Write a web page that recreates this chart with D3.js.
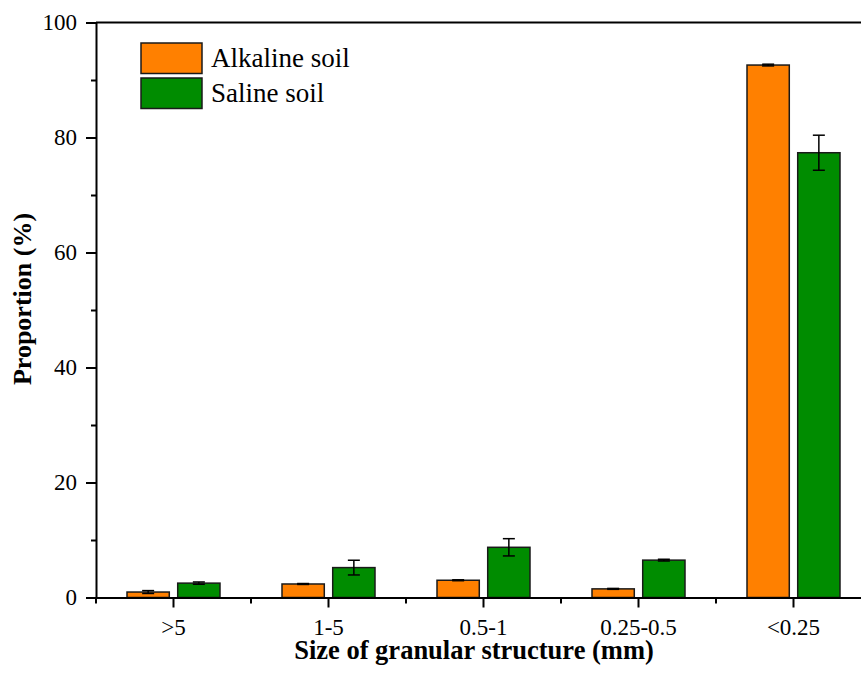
<!DOCTYPE html>
<html>
<head>
<meta charset="utf-8">
<script src="https://cdn.jsdelivr.net/npm/d3@7"></script>
<style>
  html, body { margin: 0; padding: 0; background: #fff; }
  svg { display: block; }
  text { font-family: "Liberation Serif", "Times New Roman", serif; fill: #000; }
</style>
</head>
<body>
<svg id="chart" width="861" height="674"></svg>
<script>
const categories = [">5", "1-5", "0.5-1", "0.25-0.5", "<0.25"];
const seriesNames = ["Alkaline soil", "Saline soil"];
const alkalineValues = [0.95, 2.35, 3.0, 1.5, 92.6];
const alkalineErrors = [0.25, 0.08, 0.08, 0.08, 0.15];
const salineValues = [2.5, 5.2, 8.73, 6.5, 77.35];
const salineErrors = [0.2, 1.28, 1.5, 0.15, 3.05];
const yMajorTicks = [0, 20, 40, 60, 80, 100];
const yMinorTicks = [10, 30, 50, 70, 90];
const colors = ["#FF8000", "#008C00"];

const svg = d3.select("#chart");
const mLeft = 96, mRight = 871, mTop = 22.5, mBottom = 597.5;

const x0 = d3.scaleBand().domain(categories).range([mLeft, mRight]).paddingInner(0).paddingOuter(0);
const groupW = 93;
const x1 = d3.scaleBand().domain(seriesNames)
  .range([x0.bandwidth() / 2 - groupW / 2, x0.bandwidth() / 2 + groupW / 2])
  .paddingInner(0.166).paddingOuter(0);
const y = d3.scaleLinear().domain([0, 100]).range([mBottom, mTop]);

const data = categories.map((c, i) => ({
  cat: c,
  vals: [
    { s: seriesNames[0], v: alkalineValues[i], e: alkalineErrors[i], col: colors[0] },
    { s: seriesNames[1], v: salineValues[i], e: salineErrors[i], col: colors[1] }
  ]
}));

// bars
const g = svg.append("g");
const groups = g.selectAll("g.grp").data(data).join("g")
  .attr("class", "grp")
  .attr("transform", d => `translate(${x0(d.cat)},0)`);

groups.selectAll("rect").data(d => d.vals).join("rect")
  .attr("x", d => x1(d.s))
  .attr("width", x1.bandwidth())
  .attr("y", d => y(d.v))
  .attr("height", d => y(0) - y(d.v))
  .attr("fill", d => d.col)
  .attr("stroke", "#1a1a1a")
  .attr("stroke-width", 1.5);

// error bars
const capW = 12;
const eb = groups.selectAll("g.eb").data(d => d.vals).join("g").attr("class", "eb");
eb.append("line")
  .attr("x1", d => x1(d.s) + x1.bandwidth() / 2)
  .attr("x2", d => x1(d.s) + x1.bandwidth() / 2)
  .attr("y1", d => y(d.v + d.e))
  .attr("y2", d => y(d.v - d.e))
  .attr("stroke", "#000").attr("stroke-width", 1.5);
eb.append("line")
  .attr("x1", d => x1(d.s) + x1.bandwidth() / 2 - capW / 2)
  .attr("x2", d => x1(d.s) + x1.bandwidth() / 2 + capW / 2)
  .attr("y1", d => y(d.v + d.e))
  .attr("y2", d => y(d.v + d.e))
  .attr("stroke", "#000").attr("stroke-width", 1.5);
eb.append("line")
  .attr("x1", d => x1(d.s) + x1.bandwidth() / 2 - capW / 2)
  .attr("x2", d => x1(d.s) + x1.bandwidth() / 2 + capW / 2)
  .attr("y1", d => y(d.v - d.e))
  .attr("y2", d => y(d.v - d.e))
  .attr("stroke", "#000").attr("stroke-width", 1.5);

// top frame line
svg.append("line")
  .attr("x1", mLeft).attr("x2", mRight)
  .attr("y1", y(100)).attr("y2", y(100))
  .attr("stroke", "#000").attr("stroke-width", 2);

// y axis
const yAxisG = svg.append("g").attr("transform", `translate(${mLeft},0)`)
  .call(d3.axisLeft(y).tickValues(yMajorTicks).tickSize(10).tickSizeOuter(0).tickPadding(9).tickFormat(d3.format("d")));
yAxisG.select(".domain").attr("stroke-width", 2);
yAxisG.selectAll(".tick line").attr("stroke-width", 2);
yAxisG.selectAll(".tick text").style("font-size", "23px").style("font-family", "'Liberation Serif', 'Times New Roman', serif");

const yMinorG = svg.append("g").attr("transform", `translate(${mLeft},0)`)
  .call(d3.axisLeft(y).tickValues(yMinorTicks).tickSize(5).tickSizeOuter(0).tickFormat(""));
yMinorG.select(".domain").remove();
yMinorG.selectAll(".tick line").attr("stroke-width", 2);

// x axis
const xAxisG = svg.append("g").attr("transform", `translate(0,${mBottom})`)
  .call(d3.axisBottom(x0).tickSize(10).tickSizeOuter(0).tickPadding(11));
xAxisG.select(".domain").attr("stroke-width", 2);
xAxisG.selectAll(".tick line").attr("stroke-width", 2);
xAxisG.selectAll(".tick text").style("font-size", "23px").style("font-family", "'Liberation Serif', 'Times New Roman', serif");

// x minor ticks at category boundaries
svg.append("g").selectAll("line").data(categories).join("line")
  .attr("x1", d => x0(d)).attr("x2", d => x0(d))
  .attr("y1", mBottom).attr("y2", mBottom + 6)
  .attr("stroke", "#000").attr("stroke-width", 2);

// axis titles
svg.append("text")
  .attr("x", 474).attr("y", 659)
  .attr("text-anchor", "middle")
  .style("font-size", "26.5px").style("font-weight", "bold")
  .text("Size of granular structure (mm)");

svg.append("text")
  .attr("transform", "translate(31,299) rotate(-90)")
  .attr("text-anchor", "middle")
  .style("font-size", "26px").style("font-weight", "bold")
  .text("Proportion (%)");

// legend
const legend = svg.append("g").attr("transform", "translate(141,43)");
const li = legend.selectAll("g").data(seriesNames).join("g")
  .attr("transform", (d, i) => `translate(0,${i * 35})`);
li.append("rect")
  .attr("width", 61).attr("height", 30.5)
  .attr("fill", (d, i) => colors[i])
  .attr("stroke", "#1a1a1a").attr("stroke-width", 1.5);
li.append("text")
  .attr("x", 70).attr("y", 24)
  .style("font-size", "27px")
  .text(d => d);
</script>
</body>
</html>
